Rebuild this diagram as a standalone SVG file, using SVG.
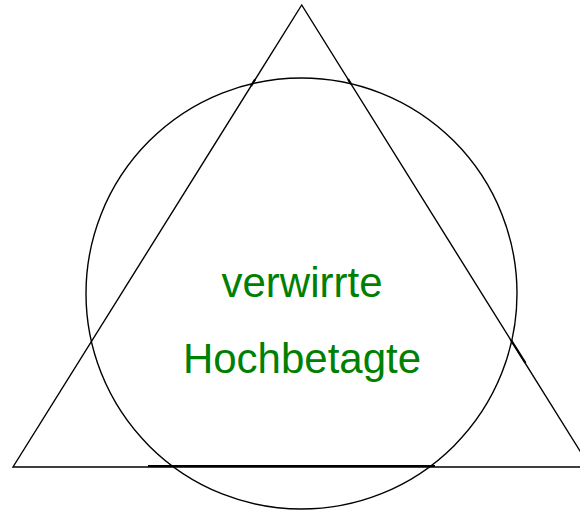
<svg xmlns="http://www.w3.org/2000/svg" width="580" height="510" viewBox="0 0 580 510">
<style>
.ln{fill:none;stroke:#000;stroke-width:1.4}
.tk{fill:none;stroke:#000;stroke-width:2.2}
.lbl{font-family:"Liberation Sans",Arial,sans-serif;font-size:42px;fill:#008000;text-anchor:middle}
</style>
<rect width="580" height="510" fill="#fff"/>
<g id="triangle">
<polygon class="ln" points="301.7,5 13,467 590,467"/>
</g>
<g id="circle">
<circle class="ln" cx="301.5" cy="293.5" r="215.5"/>
</g>
<g id="connectors">
<line class="tk" x1="148" y1="466" x2="435" y2="466"/>
<line class="tk" x1="511" y1="340" x2="525.5" y2="363"/>
<line class="tk" x1="251" y1="86" x2="255" y2="79.5"/>
<line class="tk" x1="348" y1="79" x2="351" y2="84"/>
</g>
<g id="label">
<text class="lbl" x="302" y="297">verwirrte</text>
<text class="lbl" x="302" y="373">Hochbetagte</text>
</g>
</svg>
